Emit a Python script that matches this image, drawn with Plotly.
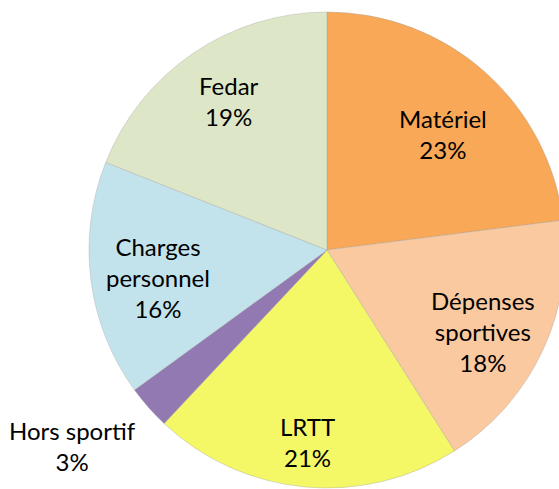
import math
import plotly.graph_objects as go

# ---- data ----
labels = ["Matériel", "Dépenses sportives", "LRTT", "Hors sportif", "Charges personnel", "Fedar"]
label_lines = ["Matériel", "Dépenses<br>sportives", "LRTT", "Hors sportif", "Charges<br>personnel", "Fedar"]
values = [23, 18, 21, 3, 16, 19]

# ---- style ----
colors = ["#F9A857", "#FBC9A0", "#F4F766", "#9379B2", "#C3E3EC", "#DEE6C8"]
W, H = 566, 489
CX, CY, R = 327, 250, 238
radial = [0.69, 0.74, 0.81, 1.35, 0.72, 0.75]
ang_shift = [3.6, 2.2, 0.3, 3.7, -2.0, 1.0]
FONT = "Lato, 'Open Sans', sans-serif"

fig = go.Figure(go.Pie(
    labels=labels, values=values, sort=False, direction="clockwise", rotation=0,
    marker=dict(colors=colors, line=dict(color="rgba(160,160,160,0.6)", width=0.6)),
    textinfo="none", hoverinfo="label+percent", showlegend=False,
    domain=dict(x=[(CX - R) / W, (CX + R) / W], y=[1 - (CY + R) / H, 1 - (CY - R) / H]),
))

total = sum(values)
cum = 0
annotations = []
for i, v in enumerate(values):
    mid = (cum + v / 2) / total * 360 + ang_shift[i]
    cum += v
    th = math.radians(mid)
    px = CX + radial[i] * R * math.sin(th)
    py = CY - radial[i] * R * math.cos(th)
    annotations.append(dict(
        x=px / W, y=1 - py / H, xref="paper", yref="paper", showarrow=False,
        text=f"{label_lines[i]}<br>{round(v / total * 100)}%",
        font=dict(family=FONT, size=24, color="#000000"), align="center",
        xanchor="center", yanchor="middle",
    ))

fig.update_layout(
    width=W, height=H, margin=dict(l=0, r=0, t=0, b=0),
    paper_bgcolor="white", plot_bgcolor="white", annotations=annotations,
)

fig.write_html("out.html", config={"displayModeBar": False},
               post_script="document.body.style.margin='0';document.body.style.overflow='hidden';")
